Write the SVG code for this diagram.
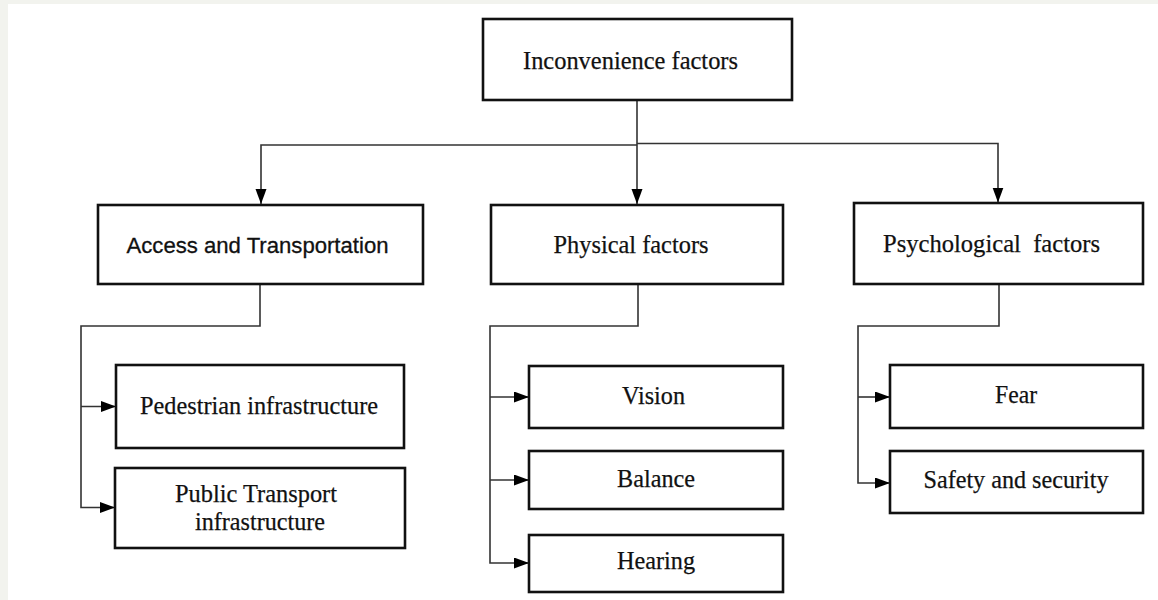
<svg xmlns="http://www.w3.org/2000/svg" width="1158" height="600" viewBox="0 0 1158 600">
<defs>
<marker id="arr" markerUnits="userSpaceOnUse" markerWidth="16" markerHeight="12" refX="15" refY="5.5" orient="auto">
<path d="M0,0 L15,5.5 L0,11 z" fill="#000"/>
</marker>
<style>
.box{fill:#fff;stroke:#111;stroke-width:2.6}
.ser{font-family:"Liberation Serif","Times New Roman",serif;font-size:26px;fill:#111;stroke:#111;stroke-width:0.25;text-anchor:middle}
.sans{font-family:"Liberation Sans",Arial,sans-serif;font-size:22px;fill:#111;stroke:#111;stroke-width:0.3;text-anchor:middle}
.ln{fill:none;stroke:#333;stroke-width:1.6}
</style>
</defs>
<rect x="0" y="0" width="1158" height="600" fill="#fff"/>
<rect x="0" y="0" width="1158" height="4" fill="#f2f3ee"/>
<rect x="0" y="0" width="8" height="600" fill="#f2f3ee"/>
<g id="connectors">
<path class="ln" d="M637,100 V204" marker-end="url(#arr)"/>
<path class="ln" d="M637,145 H261 V204" marker-end="url(#arr)"/>
<path class="ln" d="M637,143.5 H998 V202.5" marker-end="url(#arr)"/>
<path class="ln" d="M260,284 V326 H81 V507.5 H115" marker-end="url(#arr)"/>
<path class="ln" d="M81,406.5 H116" marker-end="url(#arr)"/>
<path class="ln" d="M638,284 V326 H490 V563 H529" marker-end="url(#arr)"/>
<path class="ln" d="M490,397 H529" marker-end="url(#arr)"/>
<path class="ln" d="M490,480 H529" marker-end="url(#arr)"/>
<path class="ln" d="M999,284 V326 H858 V483 H890" marker-end="url(#arr)"/>
<path class="ln" d="M858,397 H890" marker-end="url(#arr)"/>
</g>
<g id="inconvenience">
<rect class="box" x="483" y="19" width="309" height="81"/>
<text class="ser" x="630.5" y="69" textLength="215" lengthAdjust="spacingAndGlyphs">Inconvenience factors</text>
</g>
<g id="access">
<rect class="box" x="98" y="205" width="325" height="79"/>
<text class="sans" x="257.5" y="253" textLength="262" lengthAdjust="spacingAndGlyphs">Access and Transportation</text>
</g>
<g id="physical">
<rect class="box" x="491" y="205" width="292" height="79"/>
<text class="ser" x="631" y="253" textLength="155" lengthAdjust="spacingAndGlyphs">Physical factors</text>
</g>
<g id="psychological">
<rect class="box" x="854" y="203" width="289" height="81"/>
<text class="ser" x="991.5" y="252" xml:space="preserve" textLength="217" lengthAdjust="spacingAndGlyphs">Psychological  factors</text>
</g>
<g id="pedestrian">
<rect class="box" x="116" y="365" width="288" height="83"/>
<text class="ser" x="259" y="414" textLength="238" lengthAdjust="spacingAndGlyphs">Pedestrian infrastructure</text>
</g>
<g id="public">
<rect class="box" x="115" y="468" width="290" height="80"/>
<text class="ser" x="256" y="502" textLength="162" lengthAdjust="spacingAndGlyphs">Public Transport</text>
<text class="ser" x="260" y="530" textLength="130" lengthAdjust="spacingAndGlyphs">infrastructure</text>
</g>
<g id="vision">
<rect class="box" x="529" y="366" width="254" height="62"/>
<text class="ser" x="653.5" y="404" textLength="63" lengthAdjust="spacingAndGlyphs">Vision</text>
</g>
<g id="balance">
<rect class="box" x="529" y="451" width="254" height="58"/>
<text class="ser" x="656" y="487" textLength="78" lengthAdjust="spacingAndGlyphs">Balance</text>
</g>
<g id="hearing">
<rect class="box" x="529" y="535" width="254" height="57"/>
<text class="ser" x="656" y="569" textLength="78" lengthAdjust="spacingAndGlyphs">Hearing</text>
</g>
<g id="fear">
<rect class="box" x="890" y="365" width="253" height="63"/>
<text class="ser" x="1016" y="403" textLength="42" lengthAdjust="spacingAndGlyphs">Fear</text>
</g>
<g id="safety">
<rect class="box" x="890" y="451" width="253" height="62"/>
<text class="ser" x="1016" y="488" textLength="185" lengthAdjust="spacingAndGlyphs">Safety and security</text>
</g>
</svg>
